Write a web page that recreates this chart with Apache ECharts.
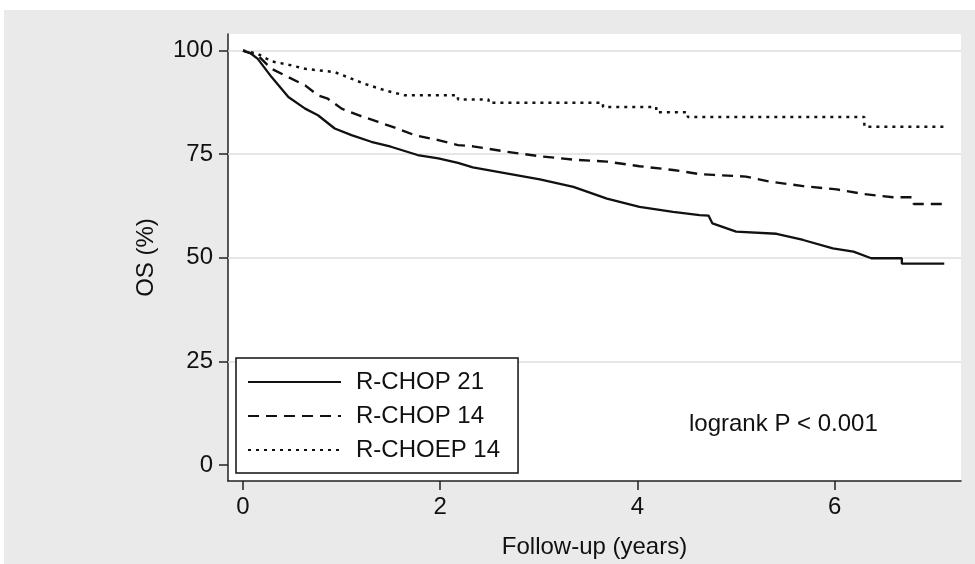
<!DOCTYPE html>
<html>
<head>
<meta charset="utf-8">
<script src="https://cdn.jsdelivr.net/npm/echarts@6/dist/echarts.min.js"></script>
<style>
  html, body { margin: 0; padding: 0; background: #ffffff; width: 975px; height: 564px; overflow: hidden; }
  #chart { position: absolute; left: 4px; top: 10px; width: 971px; height: 554px; }
</style>
</head>
<body>
<div id="chart"></div>
<script>
// ---- data (Kaplan-Meier OS, %) ----
const seriesNames = ['R-CHOP 21', 'R-CHOP 14', 'R-CHOEP 14'];

const rchop21Time = [0, 0.08, 0.15, 0.29, 0.46, 0.63, 0.76, 0.93, 1.10, 1.30, 1.50, 1.77, 1.98, 2.18, 2.33, 2.67, 3.01, 3.35, 3.69, 4.02, 4.36, 4.63, 4.72, 4.76, 5.00, 5.41, 5.68, 5.98, 6.19, 6.37, 6.68, 6.68, 7.11];
const rchop21OS   = [100, 99.3, 98.0, 93.6, 88.8, 86.0, 84.4, 81.2, 79.6, 78.0, 76.8, 74.8, 74.0, 72.9, 71.8, 70.4, 68.9, 67.1, 64.3, 62.3, 61.1, 60.3, 60.2, 58.3, 56.3, 55.8, 54.3, 52.3, 51.5, 49.9, 49.9, 48.6, 48.6];

const rchop14Time = [0, 0.15, 0.29, 0.46, 0.63, 0.76, 0.86, 1.00, 1.17, 1.37, 1.54, 1.74, 1.98, 2.18, 2.33, 2.67, 3.01, 3.35, 3.69, 4.02, 4.36, 4.63, 4.77, 5.10, 5.34, 5.68, 6.02, 6.29, 6.59, 6.79, 6.80, 7.11];
const rchop14OS   = [100, 98.8, 95.6, 93.6, 91.6, 89.2, 88.4, 86.0, 84.4, 82.8, 81.4, 79.6, 78.4, 77.2, 76.9, 75.6, 74.5, 73.7, 73.2, 72.1, 71.2, 70.2, 70.0, 69.6, 68.4, 67.3, 66.5, 65.4, 64.6, 64.6, 63.0, 63.0];

const rchoep14Time = [0, 0.15, 0.29, 0.46, 0.63, 0.93, 1.06, 1.23, 1.44, 1.64, 2.18, 2.18, 2.49, 2.49, 3.65, 3.65, 4.19, 4.19, 4.51, 4.51, 6.30, 6.30, 7.11];
const rchoep14OS   = [100, 99.2, 97.4, 96.6, 95.6, 94.8, 93.6, 92.0, 90.4, 89.2, 89.2, 88.2, 88.2, 87.4, 87.4, 86.4, 86.4, 85.1, 85.1, 84.0, 84.0, 81.6, 81.6];

const xTicks = [0, 2, 4, 6];
const yTicks = [0, 25, 50, 75, 100];
const gridValues = [25, 50, 75, 100];

const xTitle = 'Follow-up (years)';
const yTitle = 'OS (%)';
const annotation = 'logrank P < 0.001';

// ---- chart ----
const FONT = '"Liberation Sans", Arial, Helvetica, sans-serif';
const zip = (a, b) => a.map((t, i) => [t, b[i]]);

const chart = echarts.init(document.getElementById('chart'), null, { renderer: 'canvas' });

const baseLine = { type: 'line', symbol: 'none', showSymbol: false, animation: false, silent: true, z: 3 };

const option = {
  backgroundColor: '#eaeaea',
  animation: false,
  textStyle: { fontFamily: FONT },
  grid: { left: 224, right: 14, top: 24, bottom: 82, show: true, backgroundColor: '#ffffff', borderWidth: 0 },
  xAxis: {
    type: 'value',
    min: -0.152, max: 7.28,
    name: xTitle,
    nameLocation: 'middle',
    nameGap: 54,
    nameTextStyle: { fontSize: 24, color: '#111', fontFamily: FONT },
    axisLine: { show: true, onZero: false, lineStyle: { color: '#222', width: 1.5 } },
    axisTick: { show: true, customValues: xTicks, length: 9, lineStyle: { color: '#222', width: 1.5 } },
    axisLabel: { customValues: xTicks, fontSize: 24, color: '#111', margin: 14, fontFamily: FONT },
    splitLine: { show: false }
  },
  yAxis: {
    type: 'value',
    min: -3.85, max: 104,
    name: yTitle,
    nameLocation: 'middle',
    nameGap: 70,
    nameRotate: 90,
    nameTextStyle: { fontSize: 24, color: '#111', fontFamily: FONT },
    axisLine: { show: true, onZero: false, lineStyle: { color: '#222', width: 1.5 } },
    axisTick: { show: true, customValues: yTicks, length: 9, lineStyle: { color: '#222', width: 1.5 } },
    axisLabel: { customValues: yTicks, fontSize: 24, color: '#111', margin: 15, fontFamily: FONT },
    splitLine: { show: false }
  },
  legend: {
    left: 232, top: 348,
    orient: 'vertical',
    data: seriesNames,
    backgroundColor: '#ffffff',
    borderColor: '#111',
    borderWidth: 1.5,
    borderRadius: 0,
    padding: [12, 18, 11, 11],
    itemWidth: 93,
    itemHeight: 20,
    itemGap: 10,
    selectedMode: false,
    itemStyle: { opacity: 0 },
    textStyle: { fontSize: 24, color: '#111', fontFamily: FONT, padding: [0, 0, 0, 10] }
  },
  graphic: [{
    type: 'text',
    left: 685, top: 402,
    style: { text: annotation, fontSize: 24, fill: '#111', font: '24px ' + FONT }
  }],
  series: [
    {
      type: 'line', name: 'gridlines', data: [], silent: true, z: 1, animation: false,
      markLine: {
        silent: true, symbol: 'none', label: { show: false }, animation: false, z: 1,
        lineStyle: { color: '#dedede', width: 1.5, type: 'solid' },
        data: gridValues.map(v => ({ yAxis: v }))
      }
    },
    Object.assign({}, baseLine, {
      name: seriesNames[0],
      data: zip(rchop21Time, rchop21OS),
      lineStyle: { color: '#111', width: 2.3, type: 'solid' },
      itemStyle: { color: '#111' },
      z: 4
    }),
    Object.assign({}, baseLine, {
      name: seriesNames[1],
      data: zip(rchop14Time, rchop14OS),
      lineStyle: { color: '#111', width: 2.4, type: [11, 7] },
      itemStyle: { color: '#111' }
    }),
    Object.assign({}, baseLine, {
      name: seriesNames[2],
      data: zip(rchoep14Time, rchoep14OS),
      lineStyle: { color: '#111', width: 2.5, type: [3, 5] },
      itemStyle: { color: '#111' }
    })
  ]
};

chart.setOption(option);
</script>
</body>
</html>
